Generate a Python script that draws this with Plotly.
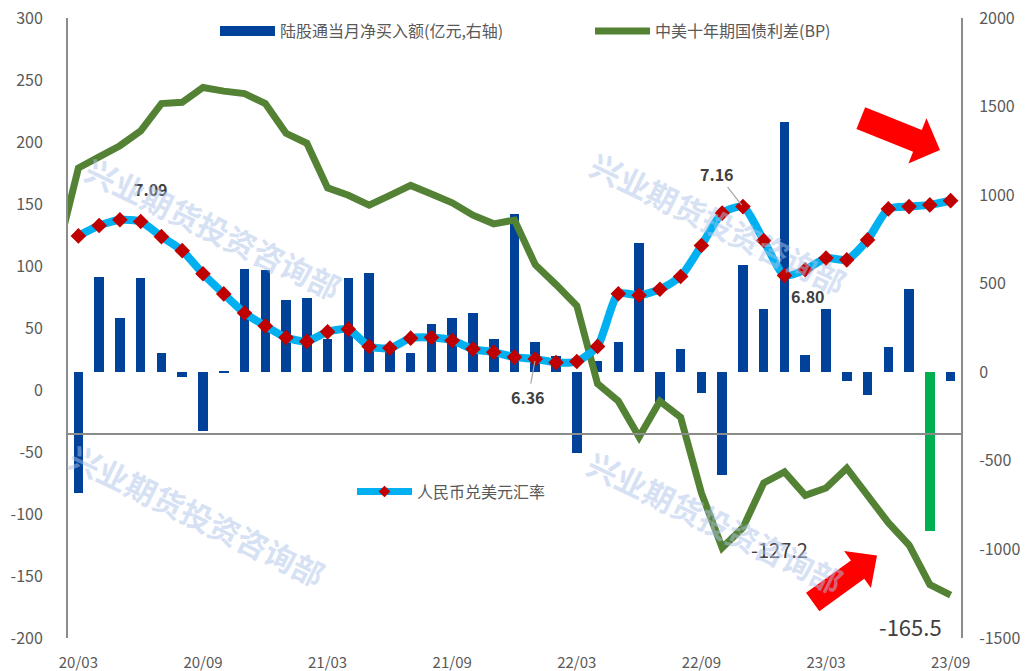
import math
import pandas as pd
import plotly.graph_objects as go

# ---------------- data ----------------
months = [d.strftime("%y/%m") for d in pd.date_range("2020-03-01", "2023-09-01", freq="MS")]

# 陆股通当月净买入额 (亿元, right axis)
northbound = [-682, 537, 304, 532, 107, -26, -333, 7, 585, 577, 406, 417, 190, 530, 562, 140,
              111, 274, 308, 333, 186, 894, 171, 90, -453, 64, 172, 731, -170, 130, -117, -577,
              605, 355, 1415, 97, 359, -50, -127, 145, 472, -898, -50]

# 中美十年期国债利差 (BP, left axis) -- first value is 20/02 (clipped at the axis edge)
spread_months = ["20/02"] + months
spread = [111, 179, 188, 197, 209, 231, 232, 244, 241, 239, 231, 207, 199, 163, 157, 149, 157,
          165, 158, 151, 141, 134, 137, 101, 85, 68, 5, -9, -38, -9, -22, -83, -127.2, -111,
          -75, -66, -85, -79, -63, -86, -107, -125, -157, -165.5]

# 人民币兑美元汇率 (hidden axis)
usdcny = [7.007, 7.061, 7.091, 7.082, 7.003, 6.930, 6.809, 6.704, 6.604, 6.537, 6.476, 6.456,
          6.506, 6.520, 6.430, 6.421, 6.473, 6.476, 6.461, 6.416, 6.400, 6.374, 6.364, 6.346,
          6.351, 6.430, 6.705, 6.697, 6.728, 6.795, 6.957, 7.126, 7.160, 6.983, 6.800, 6.830,
          6.891, 6.882, 6.986, 7.148, 7.160, 7.169, 7.191]

tick_labels = ["20/03", "20/09", "21/03", "21/09", "22/03", "22/09", "23/03", "23/09"]
left_ticks = [-200, -150, -100, -50, 0, 50, 100, 150, 200, 250, 300]
right_ticks = [-1500, -1000, -500, 0, 500, 1000, 1500, 2000]

# ---------------- styling ----------------
BLUE = "#00419A"
GREEN_BAR = "#00B050"
GREEN_LINE = "#548235"
RATE_LINE = "#00B0F0"
RATE_MARK = "#C00000"
TXT = "#595959"
DARK = "#404040"
FONT = "Noto Sans CJK SC"

W, H = 1025, 671
PLOT_L, PLOT_R, PLOT_T, PLOT_B = 68, 961, 18, 638.5      # plot area in page pixels
L, T = PLOT_L, PLOT_T
R, B = W - PLOT_R, H - PLOT_B
PW, PH = PLOT_R - PLOT_L, PLOT_B - PLOT_T

def px2paper(x, y):
    return (x - PLOT_L) / PW, (PLOT_B - y) / PH

def arrow_path(tail, tip, sw, hw, hl):
    dx, dy = tip[0] - tail[0], tip[1] - tail[1]
    ln = math.hypot(dx, dy)
    ux, uy = dx / ln, dy / ln
    nx, ny = -uy, ux
    bx, by = tip[0] - hl * ux, tip[1] - hl * uy
    pts = [(tail[0] + nx * sw / 2, tail[1] + ny * sw / 2),
           (bx + nx * sw / 2, by + ny * sw / 2),
           (bx + nx * hw / 2, by + ny * hw / 2),
           tip,
           (bx - nx * hw / 2, by - ny * hw / 2),
           (bx - nx * sw / 2, by - ny * sw / 2),
           (tail[0] - nx * sw / 2, tail[1] - ny * sw / 2)]
    pp = [px2paper(*p) for p in pts]
    return "M " + " L ".join(f"{a:.5f},{b:.5f}" for a, b in pp) + " Z"

x_idx = list(range(len(months)))
x_spread = list(range(-1, len(months)))
bar_colors = [GREEN_BAR if m == "23/08" else BLUE for m in months]
tickvals = [months.index(t) for t in tick_labels]

fig = go.Figure()

# bars (primary y, on the right side)
fig.add_trace(go.Bar(x=x_idx, y=northbound, marker=dict(color=bar_colors, line=dict(width=0)),
                     width=0.46, yaxis="y", showlegend=False, name="陆股通当月净买入额(亿元,右轴)"))
# spread line (left axis)
fig.add_trace(go.Scatter(x=x_spread, y=spread, mode="lines", yaxis="y2",
                         line=dict(color=GREEN_LINE, width=7), showlegend=False,
                         name="中美十年期国债利差(BP)"))
# exchange rate (hidden axis)
fig.add_trace(go.Scatter(x=x_idx, y=usdcny, mode="lines+markers", yaxis="y3",
                         line=dict(color=RATE_LINE, width=8, shape="spline", smoothing=0.6),
                         marker=dict(symbol="diamond", size=12, color=RATE_MARK),
                         showlegend=False, name="人民币兑美元汇率"))

# legend entries
fig.add_trace(go.Scatter(x=[None], y=[None], mode="lines", line=dict(color=BLUE, width=10),
                         name="陆股通当月净买入额(亿元,右轴)", legend="legend"))
fig.add_trace(go.Scatter(x=[None], y=[None], mode="lines", line=dict(color=GREEN_LINE, width=7),
                         name="中美十年期国债利差(BP)", legend="legend2"))
fig.add_trace(go.Scatter(x=[None], y=[None], mode="lines+markers",
                         line=dict(color=RATE_LINE, width=7),
                         marker=dict(symbol="diamond", size=9, color=RATE_MARK),
                         name="人民币兑美元汇率", legend="legend3"))

ann = []
def lab(text, x, y, yref, size, bold=False, xshift=0, yshift=0):
    ann.append(dict(x=x, y=y, xref="x", yref=yref, text=f"<b>{text}</b>" if bold else text,
                    showarrow=False, xshift=xshift, yshift=yshift,
                    font=dict(family=FONT, size=size, color=DARK)))

i709 = usdcny.index(max(usdcny[:12]))
lab(f"{usdcny[i709]:.2f}", i709, usdcny[i709], "y3", 16, True, xshift=31, yshift=31)
i680 = 34
lab(f"{usdcny[i680]:.2f}", i680, usdcny[i680], "y3", 16, True, xshift=24, yshift=-20)
# leader-line labels
for idx, ax_, ay_ in [(32, -26, -33), (22, -7, 38)]:
    ann.append(dict(x=idx, y=usdcny[idx], xref="x", yref="y3", text=f"<b>{usdcny[idx]:.2f}</b>",
                    showarrow=True, arrowhead=0, arrowwidth=1.2, arrowcolor="#A6A6A6",
                    ax=ax_, ay=ay_, standoff=2,
                    font=dict(family=FONT, size=16, color=DARK)))
i1 = spread_months.index("22/10")
lab(f"{spread[i1]}", x_spread[i1], spread[i1], "y2", 20, False, xshift=57, yshift=-2)
i2 = spread_months.index("23/09")
lab(f"{spread[i2]}", x_spread[i2], spread[i2], "y2", 22, False, xshift=-40, yshift=-31)

# watermarks
for cx, cy in [(213, 228), (197, 515), (718, 223), (715, 522)]:
    px, py = px2paper(cx, cy)
    ann.append(dict(x=px, y=py, xref="paper", yref="paper", text="<b>兴业期货投资咨询部</b>",
                    showarrow=False, textangle=26, xanchor="center", yanchor="middle",
                    font=dict(family=FONT, size=31, color="rgba(175,196,234,0.5)")))

shapes = [
    dict(type="line", xref="paper", yref="paper", x0=0, x1=1,
         y0=px2paper(0, 434.3)[1], y1=px2paper(0, 434.3)[1],
         line=dict(color="#8C8C8C", width=2)),
    dict(type="path", xref="paper", yref="paper",
         path=arrow_path((860.8, 118.3), (940, 150), 23.5, 48.6, 24.3),
         fillcolor="#FF0000", line=dict(width=0)),
    dict(type="path", xref="paper", yref="paper",
         path=arrow_path((812.7, 602.5), (877, 556), 22.7, 45.7, 24),
         fillcolor="#FF0000", line=dict(width=0)),
]

leg_common = dict(orientation="h", bgcolor="rgba(0,0,0,0)", itemwidth=55,
                  font=dict(family=FONT, size=16, color=TXT), xanchor="left", yanchor="middle")

fig.update_layout(
    width=W, height=H, margin=dict(l=L, r=R, t=T, b=B, autoexpand=False),
    paper_bgcolor="white", plot_bgcolor="white",
    font=dict(family=FONT, color=TXT),
    bargap=0,
    xaxis=dict(range=[-0.5, len(months) - 0.5], tickvals=tickvals, ticktext=tick_labels,
               showgrid=False, zeroline=False, showline=False, ticks="outside", ticklen=0,
               automargin=False, ticklabeloverflow="allow",
               tickfont=dict(family=FONT, size=15, color=TXT), ticklabelstandoff=11),
    yaxis=dict(side="right", range=[right_ticks[0], right_ticks[-1]], tickvals=right_ticks,
               ticktext=[str(v) for v in right_ticks], showgrid=False, zeroline=False,
               showline=True, linecolor="#8C8C8C", linewidth=2, ticks="outside", ticklen=0,
               automargin=False, ticklabeloverflow="allow",
               tickfont=dict(family=FONT, size=16, color=TXT), ticklabelstandoff=13),
    yaxis2=dict(side="left", overlaying="y", range=[left_ticks[0], left_ticks[-1]],
                tickvals=left_ticks, ticktext=[str(v) for v in left_ticks], showgrid=False,
                zeroline=False, showline=True, linecolor="#8C8C8C", linewidth=2,
                automargin=False, ticklabeloverflow="allow",
                ticks="outside", ticklen=0, tickfont=dict(family=FONT, size=16, color=TXT),
                ticklabelstandoff=20),
    yaxis3=dict(overlaying="y", range=[4.907, 8.145], visible=False, automargin=False),
    legend=dict(x=px2paper(215, 0)[0], y=px2paper(0, 31)[1], **leg_common),
    legend2=dict(x=px2paper(590, 0)[0], y=px2paper(0, 31)[1], **leg_common),
    legend3=dict(x=px2paper(352, 0)[0], y=px2paper(0, 492)[1], **leg_common),
    annotations=ann, shapes=shapes,
)

fig.write_html("out.html", config={"displayModeBar": False},
               post_script="document.body.style.margin='0';")
